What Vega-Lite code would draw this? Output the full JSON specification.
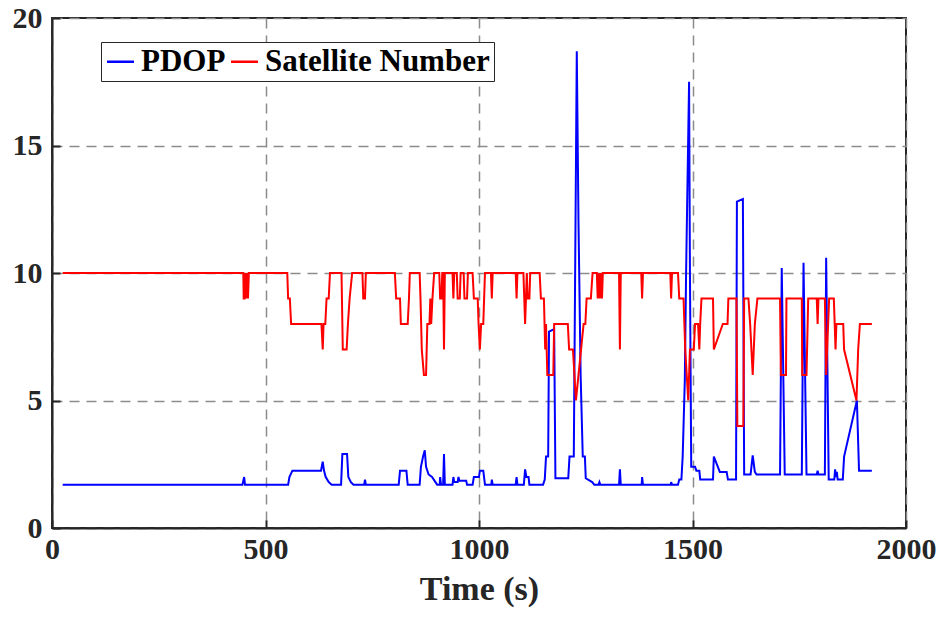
{
  "$schema": "https://vega.github.io/schema/vega-lite/v6.json",
  "width": 854,
  "height": 510,
  "autosize": {"type": "none"},
  "padding": {"left": 52, "top": 18, "right": 34, "bottom": 89},
  "background": "white",
  "config": {
    "view": {"stroke": "#262626", "strokeWidth": 2},
    "font": "Liberation Serif",
    "axis": {
      "labelFont": "Liberation Serif", "labelFontWeight": "bold", "labelFontSize": 30, "labelColor": "#262626",
      "titleFont": "Liberation Serif", "titleFontWeight": "bold", "titleFontSize": 34, "titleColor": "#262626",
      "domainColor": "#262626", "domainWidth": 2,
      "tickColor": "#262626", "tickWidth": 2, "tickSize": -8,
      "gridColor": "#8c8c8c", "gridWidth": 1.5, "gridDash": [10, 7], "gridOpacity": 1
    }
  },
  "data": {"values": [
    {"t":25,"v":1.7,"s":"PDOP"},{"t":446,"v":1.7,"s":"PDOP"},{"t":450,"v":2.0,"s":"PDOP"},{"t":452,"v":1.7,"s":"PDOP"},
    {"t":553,"v":1.7,"s":"PDOP"},{"t":556,"v":2.0,"s":"PDOP"},{"t":563,"v":2.25,"s":"PDOP"},{"t":630,"v":2.25,"s":"PDOP"},{"t":634,"v":2.6,"s":"PDOP"},{"t":637,"v":2.25,"s":"PDOP"},{"t":641,"v":2.0,"s":"PDOP"},{"t":648,"v":1.8,"s":"PDOP"},{"t":655,"v":1.7,"s":"PDOP"},
    {"t":677,"v":1.7,"s":"PDOP"},{"t":680,"v":2.9,"s":"PDOP"},{"t":691,"v":2.9,"s":"PDOP"},{"t":694,"v":2.0,"s":"PDOP"},{"t":700,"v":1.8,"s":"PDOP"},{"t":706,"v":1.7,"s":"PDOP"},
    {"t":731,"v":1.7,"s":"PDOP"},{"t":733,"v":1.9,"s":"PDOP"},{"t":735,"v":1.7,"s":"PDOP"},
    {"t":812,"v":1.7,"s":"PDOP"},{"t":815,"v":2.25,"s":"PDOP"},{"t":830,"v":2.25,"s":"PDOP"},{"t":833,"v":1.7,"s":"PDOP"},
    {"t":861,"v":1.7,"s":"PDOP"},{"t":864,"v":2.4,"s":"PDOP"},{"t":869,"v":2.8,"s":"PDOP"},{"t":873,"v":3.05,"s":"PDOP"},{"t":876,"v":2.4,"s":"PDOP"},{"t":882,"v":2.1,"s":"PDOP"},{"t":890,"v":2.0,"s":"PDOP"},{"t":898,"v":1.8,"s":"PDOP"},{"t":902,"v":1.7,"s":"PDOP"},
    {"t":908,"v":1.7,"s":"PDOP"},{"t":909,"v":2.0,"s":"PDOP"},{"t":911,"v":1.7,"s":"PDOP"},
    {"t":916,"v":1.7,"s":"PDOP"},{"t":918,"v":2.9,"s":"PDOP"},{"t":920,"v":1.7,"s":"PDOP"},
    {"t":938,"v":1.7,"s":"PDOP"},{"t":940,"v":2.0,"s":"PDOP"},{"t":942,"v":1.8,"s":"PDOP"},{"t":950,"v":1.8,"s":"PDOP"},{"t":952,"v":2.0,"s":"PDOP"},{"t":954,"v":1.85,"s":"PDOP"},{"t":970,"v":1.85,"s":"PDOP"},{"t":972,"v":1.7,"s":"PDOP"},
    {"t":985,"v":1.7,"s":"PDOP"},{"t":988,"v":2.0,"s":"PDOP"},{"t":1000,"v":2.0,"s":"PDOP"},{"t":1002,"v":2.25,"s":"PDOP"},{"t":1010,"v":2.25,"s":"PDOP"},{"t":1014,"v":1.7,"s":"PDOP"},
    {"t":1029,"v":1.7,"s":"PDOP"},{"t":1030,"v":1.9,"s":"PDOP"},{"t":1032,"v":1.7,"s":"PDOP"},
    {"t":1086,"v":1.7,"s":"PDOP"},{"t":1088,"v":2.0,"s":"PDOP"},{"t":1090,"v":1.7,"s":"PDOP"},
    {"t":1105,"v":1.7,"s":"PDOP"},{"t":1108,"v":2.3,"s":"PDOP"},{"t":1111,"v":2.0,"s":"PDOP"},{"t":1116,"v":2.0,"s":"PDOP"},{"t":1118,"v":1.7,"s":"PDOP"},
    {"t":1150,"v":1.7,"s":"PDOP"},{"t":1154,"v":1.9,"s":"PDOP"},{"t":1157,"v":2.8,"s":"PDOP"},{"t":1162,"v":2.8,"s":"PDOP"},{"t":1164,"v":7.7,"s":"PDOP"},{"t":1176,"v":7.8,"s":"PDOP"},{"t":1179,"v":1.95,"s":"PDOP"},{"t":1209,"v":1.95,"s":"PDOP"},{"t":1212,"v":2.8,"s":"PDOP"},{"t":1222,"v":2.8,"s":"PDOP"},{"t":1229,"v":18.7,"s":"PDOP"},{"t":1233,"v":12,"s":"PDOP"},{"t":1238,"v":6,"s":"PDOP"},{"t":1243,"v":2.8,"s":"PDOP"},{"t":1248,"v":2.8,"s":"PDOP"},{"t":1250,"v":1.95,"s":"PDOP"},{"t":1265,"v":1.8,"s":"PDOP"},{"t":1270,"v":1.7,"s":"PDOP"},
    {"t":1280,"v":1.7,"s":"PDOP"},{"t":1282,"v":1.8,"s":"PDOP"},{"t":1284,"v":1.7,"s":"PDOP"},
    {"t":1328,"v":1.7,"s":"PDOP"},{"t":1330,"v":2.3,"s":"PDOP"},{"t":1332,"v":1.7,"s":"PDOP"},
    {"t":1381,"v":1.7,"s":"PDOP"},{"t":1382,"v":2.0,"s":"PDOP"},{"t":1384,"v":1.7,"s":"PDOP"},
    {"t":1449,"v":1.7,"s":"PDOP"},{"t":1450,"v":1.8,"s":"PDOP"},{"t":1452,"v":1.7,"s":"PDOP"},
    {"t":1466,"v":1.7,"s":"PDOP"},{"t":1469,"v":1.9,"s":"PDOP"},{"t":1474,"v":1.9,"s":"PDOP"},{"t":1477,"v":2.8,"s":"PDOP"},{"t":1482,"v":5.8,"s":"PDOP"},{"t":1485,"v":10,"s":"PDOP"},{"t":1492,"v":17.5,"s":"PDOP"},{"t":1494,"v":10,"s":"PDOP"},{"t":1497,"v":2.4,"s":"PDOP"},{"t":1506,"v":2.4,"s":"PDOP"},{"t":1509,"v":2.25,"s":"PDOP"},{"t":1516,"v":2.25,"s":"PDOP"},{"t":1518,"v":1.9,"s":"PDOP"},{"t":1548,"v":1.9,"s":"PDOP"},{"t":1550,"v":2.8,"s":"PDOP"},{"t":1564,"v":2.2,"s":"PDOP"},{"t":1580,"v":2.2,"s":"PDOP"},{"t":1583,"v":1.9,"s":"PDOP"},{"t":1602,"v":1.9,"s":"PDOP"},{"t":1604,"v":12.8,"s":"PDOP"},{"t":1618,"v":12.9,"s":"PDOP"},{"t":1621,"v":2.1,"s":"PDOP"},{"t":1636,"v":2.1,"s":"PDOP"},{"t":1641,"v":2.85,"s":"PDOP"},{"t":1646,"v":2.2,"s":"PDOP"},{"t":1650,"v":2.1,"s":"PDOP"},{"t":1705,"v":2.1,"s":"PDOP"},{"t":1709,"v":10.2,"s":"PDOP"},{"t":1716,"v":2.1,"s":"PDOP"},{"t":1756,"v":2.1,"s":"PDOP"},{"t":1760,"v":10.4,"s":"PDOP"},{"t":1767,"v":2.1,"s":"PDOP"},{"t":1791,"v":2.1,"s":"PDOP"},{"t":1793,"v":2.25,"s":"PDOP"},{"t":1795,"v":2.1,"s":"PDOP"},{"t":1810,"v":2.1,"s":"PDOP"},{"t":1813,"v":10.6,"s":"PDOP"},{"t":1819,"v":1.9,"s":"PDOP"},{"t":1832,"v":1.9,"s":"PDOP"},{"t":1834,"v":2.3,"s":"PDOP"},{"t":1836,"v":2.0,"s":"PDOP"},{"t":1838,"v":2.2,"s":"PDOP"},{"t":1840,"v":1.9,"s":"PDOP"},{"t":1852,"v":1.9,"s":"PDOP"},{"t":1855,"v":2.8,"s":"PDOP"},{"t":1885,"v":5.0,"s":"PDOP"},{"t":1890,"v":2.25,"s":"PDOP"},{"t":1920,"v":2.25,"s":"PDOP"},

    {"t":25,"v":10,"s":"Satellite Number"},{"t":448,"v":10,"s":"Satellite Number"},{"t":449,"v":9,"s":"Satellite Number"},{"t":451,"v":9,"s":"Satellite Number"},{"t":452,"v":10,"s":"Satellite Number"},{"t":455,"v":9,"s":"Satellite Number"},{"t":457,"v":10,"s":"Satellite Number"},{"t":459,"v":9,"s":"Satellite Number"},{"t":461,"v":10,"s":"Satellite Number"},
    {"t":551,"v":10,"s":"Satellite Number"},{"t":553,"v":9,"s":"Satellite Number"},{"t":557,"v":9,"s":"Satellite Number"},{"t":560,"v":8,"s":"Satellite Number"},{"t":631,"v":8,"s":"Satellite Number"},{"t":634,"v":7,"s":"Satellite Number"},{"t":636,"v":8,"s":"Satellite Number"},{"t":640,"v":8,"s":"Satellite Number"},{"t":643,"v":9,"s":"Satellite Number"},{"t":648,"v":9,"s":"Satellite Number"},{"t":651,"v":10,"s":"Satellite Number"},{"t":678,"v":10,"s":"Satellite Number"},{"t":681,"v":7,"s":"Satellite Number"},{"t":690,"v":7,"s":"Satellite Number"},{"t":693,"v":8,"s":"Satellite Number"},{"t":697,"v":9,"s":"Satellite Number"},{"t":703,"v":10,"s":"Satellite Number"},
    {"t":727,"v":10,"s":"Satellite Number"},{"t":729,"v":9,"s":"Satellite Number"},{"t":733,"v":9,"s":"Satellite Number"},{"t":735,"v":10,"s":"Satellite Number"},
    {"t":803,"v":10,"s":"Satellite Number"},{"t":806,"v":9,"s":"Satellite Number"},{"t":815,"v":9,"s":"Satellite Number"},{"t":817,"v":8,"s":"Satellite Number"},{"t":833,"v":8,"s":"Satellite Number"},{"t":836,"v":9,"s":"Satellite Number"},{"t":838,"v":10,"s":"Satellite Number"},
    {"t":861,"v":10,"s":"Satellite Number"},{"t":863,"v":9,"s":"Satellite Number"},{"t":866,"v":7,"s":"Satellite Number"},{"t":871,"v":6,"s":"Satellite Number"},{"t":876,"v":6,"s":"Satellite Number"},{"t":879,"v":8,"s":"Satellite Number"},{"t":884,"v":8,"s":"Satellite Number"},{"t":886,"v":9,"s":"Satellite Number"},{"t":888,"v":8,"s":"Satellite Number"},{"t":891,"v":9,"s":"Satellite Number"},{"t":895,"v":10,"s":"Satellite Number"},
    {"t":907,"v":10,"s":"Satellite Number"},{"t":909,"v":9,"s":"Satellite Number"},{"t":912,"v":9,"s":"Satellite Number"},{"t":914,"v":10,"s":"Satellite Number"},{"t":916,"v":10,"s":"Satellite Number"},{"t":918,"v":7,"s":"Satellite Number"},{"t":920,"v":10,"s":"Satellite Number"},
    {"t":938,"v":10,"s":"Satellite Number"},{"t":940,"v":9,"s":"Satellite Number"},{"t":942,"v":10,"s":"Satellite Number"},{"t":948,"v":10,"s":"Satellite Number"},{"t":950,"v":9,"s":"Satellite Number"},{"t":955,"v":9,"s":"Satellite Number"},{"t":957,"v":10,"s":"Satellite Number"},{"t":964,"v":10,"s":"Satellite Number"},{"t":966,"v":9,"s":"Satellite Number"},{"t":972,"v":9,"s":"Satellite Number"},{"t":974,"v":10,"s":"Satellite Number"},
    {"t":985,"v":10,"s":"Satellite Number"},{"t":988,"v":9,"s":"Satellite Number"},{"t":997,"v":9,"s":"Satellite Number"},{"t":999,"v":8,"s":"Satellite Number"},{"t":1002,"v":7,"s":"Satellite Number"},{"t":1005,"v":8,"s":"Satellite Number"},{"t":1010,"v":8,"s":"Satellite Number"},{"t":1012,"v":9,"s":"Satellite Number"},{"t":1014,"v":10,"s":"Satellite Number"},
    {"t":1028,"v":10,"s":"Satellite Number"},{"t":1030,"v":9,"s":"Satellite Number"},{"t":1032,"v":10,"s":"Satellite Number"},
    {"t":1086,"v":10,"s":"Satellite Number"},{"t":1088,"v":9,"s":"Satellite Number"},{"t":1090,"v":10,"s":"Satellite Number"},
    {"t":1104,"v":10,"s":"Satellite Number"},{"t":1106,"v":9,"s":"Satellite Number"},{"t":1108,"v":8,"s":"Satellite Number"},{"t":1110,"v":9,"s":"Satellite Number"},{"t":1112,"v":10,"s":"Satellite Number"},{"t":1114,"v":9,"s":"Satellite Number"},{"t":1118,"v":9,"s":"Satellite Number"},{"t":1120,"v":10,"s":"Satellite Number"},
    {"t":1142,"v":10,"s":"Satellite Number"},{"t":1145,"v":9,"s":"Satellite Number"},{"t":1152,"v":9,"s":"Satellite Number"},{"t":1155,"v":7,"s":"Satellite Number"},{"t":1157,"v":8,"s":"Satellite Number"},{"t":1160,"v":6,"s":"Satellite Number"},{"t":1174,"v":6,"s":"Satellite Number"},{"t":1176,"v":8,"s":"Satellite Number"},{"t":1208,"v":8,"s":"Satellite Number"},{"t":1211,"v":7,"s":"Satellite Number"},{"t":1220,"v":7,"s":"Satellite Number"},{"t":1227,"v":5,"s":"Satellite Number"},{"t":1245,"v":8,"s":"Satellite Number"},{"t":1249,"v":8,"s":"Satellite Number"},{"t":1252,"v":9,"s":"Satellite Number"},{"t":1262,"v":9,"s":"Satellite Number"},{"t":1266,"v":10,"s":"Satellite Number"},
    {"t":1276,"v":10,"s":"Satellite Number"},{"t":1278,"v":9,"s":"Satellite Number"},{"t":1280,"v":10,"s":"Satellite Number"},{"t":1283,"v":9,"s":"Satellite Number"},{"t":1285,"v":10,"s":"Satellite Number"},{"t":1288,"v":9,"s":"Satellite Number"},{"t":1290,"v":10,"s":"Satellite Number"},
    {"t":1328,"v":10,"s":"Satellite Number"},{"t":1330,"v":7,"s":"Satellite Number"},{"t":1332,"v":10,"s":"Satellite Number"},
    {"t":1380,"v":10,"s":"Satellite Number"},{"t":1382,"v":9,"s":"Satellite Number"},{"t":1384,"v":10,"s":"Satellite Number"},
    {"t":1448,"v":10,"s":"Satellite Number"},{"t":1450,"v":9,"s":"Satellite Number"},{"t":1452,"v":10,"s":"Satellite Number"},
    {"t":1466,"v":10,"s":"Satellite Number"},{"t":1469,"v":9,"s":"Satellite Number"},{"t":1479,"v":9,"s":"Satellite Number"},{"t":1483,"v":7,"s":"Satellite Number"},{"t":1490,"v":5,"s":"Satellite Number"},{"t":1494,"v":7,"s":"Satellite Number"},{"t":1503,"v":7,"s":"Satellite Number"},{"t":1506,"v":8,"s":"Satellite Number"},{"t":1513,"v":8,"s":"Satellite Number"},{"t":1516,"v":7,"s":"Satellite Number"},{"t":1518,"v":8,"s":"Satellite Number"},{"t":1521,"v":9,"s":"Satellite Number"},{"t":1548,"v":9,"s":"Satellite Number"},{"t":1550,"v":7,"s":"Satellite Number"},{"t":1571,"v":8,"s":"Satellite Number"},{"t":1582,"v":8,"s":"Satellite Number"},{"t":1584,"v":9,"s":"Satellite Number"},{"t":1603,"v":9,"s":"Satellite Number"},{"t":1605,"v":4,"s":"Satellite Number"},{"t":1619,"v":4,"s":"Satellite Number"},{"t":1621,"v":9,"s":"Satellite Number"},{"t":1631,"v":9,"s":"Satellite Number"},{"t":1635,"v":8,"s":"Satellite Number"},{"t":1641,"v":6,"s":"Satellite Number"},{"t":1646,"v":8,"s":"Satellite Number"},{"t":1652,"v":9,"s":"Satellite Number"},{"t":1705,"v":9,"s":"Satellite Number"},{"t":1707,"v":6,"s":"Satellite Number"},{"t":1719,"v":6,"s":"Satellite Number"},{"t":1720,"v":9,"s":"Satellite Number"},{"t":1756,"v":9,"s":"Satellite Number"},{"t":1757,"v":6,"s":"Satellite Number"},{"t":1767,"v":6,"s":"Satellite Number"},{"t":1771,"v":9,"s":"Satellite Number"},{"t":1791,"v":9,"s":"Satellite Number"},{"t":1793,"v":8,"s":"Satellite Number"},{"t":1795,"v":9,"s":"Satellite Number"},{"t":1810,"v":9,"s":"Satellite Number"},{"t":1813,"v":6,"s":"Satellite Number"},{"t":1820,"v":9,"s":"Satellite Number"},{"t":1831,"v":9,"s":"Satellite Number"},{"t":1833,"v":8,"s":"Satellite Number"},{"t":1835,"v":7,"s":"Satellite Number"},{"t":1837,"v":8,"s":"Satellite Number"},{"t":1853,"v":8,"s":"Satellite Number"},{"t":1855,"v":7,"s":"Satellite Number"},{"t":1884,"v":5,"s":"Satellite Number"},{"t":1888,"v":7,"s":"Satellite Number"},{"t":1892,"v":8,"s":"Satellite Number"},{"t":1920,"v":8,"s":"Satellite Number"}
  ]},
  "mark": {"type": "line", "strokeWidth": 2, "clip": true},
  "encoding": {
    "x": {"field": "t", "type": "quantitative", "scale": {"domain": [0, 2000], "nice": false},
      "axis": {"title": "Time (s)", "values": [0, 500, 1000, 1500, 2000], "format": "d", "labelPadding": 14, "titlePadding": 8, "labelFlush": false}},
    "y": {"field": "v", "type": "quantitative", "scale": {"domain": [0, 20], "nice": false},
      "axis": {"title": null, "values": [0, 5, 10, 15, 20], "format": "d", "labelPadding": 18}},
    "color": {"field": "s", "type": "nominal",
      "scale": {"domain": ["PDOP", "Satellite Number"], "range": ["#0000ff", "#ff0000"]},
      "legend": {"title": null, "orient": "none", "legendX": 49, "legendY": 24, "direction": "horizontal",
        "symbolType": "stroke", "symbolSize": 729, "symbolStrokeWidth": 2.5, "labelFont": "Liberation Serif", "labelFontWeight": "bold",
        "labelFontSize": 31, "labelColor": "black", "labelOffset": 5, "columnPadding": 0, "labelLimit": 400,
        "strokeColor": "#262626", "fillColor": "white", "padding": 4, "symbolOffset": 0}
    }
  }
}
